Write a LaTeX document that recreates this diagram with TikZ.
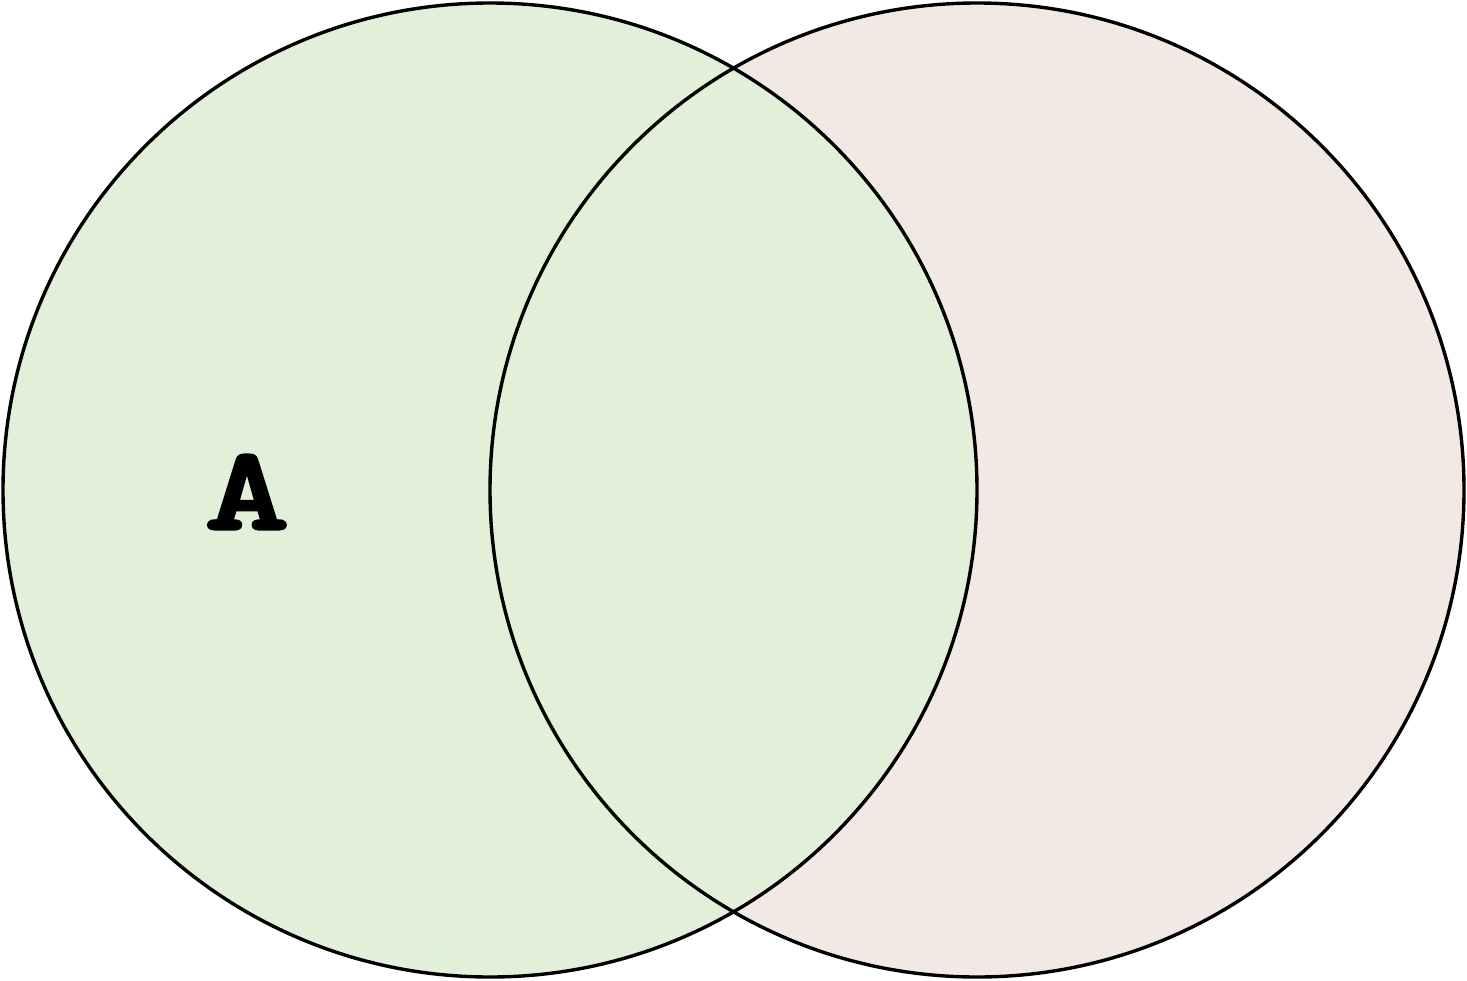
\documentclass[tikz,border=0pt]{standalone}
\usepackage{fontspec}
\newfontfamily\heavytt[FakeBold=2]{lmmonolt10-bold.otf}
\definecolor{setgreen}{HTML}{E2EFD9}
\definecolor{setpink}{HTML}{F2E9E4}
\tikzset{setline/.style={draw=black,line width=1.7pt}}
\begin{document}
\begin{tikzpicture}[x=0.5pt,y=-0.5pt]
\useasboundingbox (0,0) rectangle (1467,980);
\fill[setpink] (977,490) circle[radius=487];
\fill[setgreen] (490,490) circle[radius=487];
\draw[setline] (977,490) circle[radius=487];
\draw[setline] (490,490) circle[radius=487];
\node[inner sep=0pt,xscale=1.35] (labelA) at (247,492) {\fontsize{60pt}{60pt}\selectfont\heavytt A};
\end{tikzpicture}
\end{document}
